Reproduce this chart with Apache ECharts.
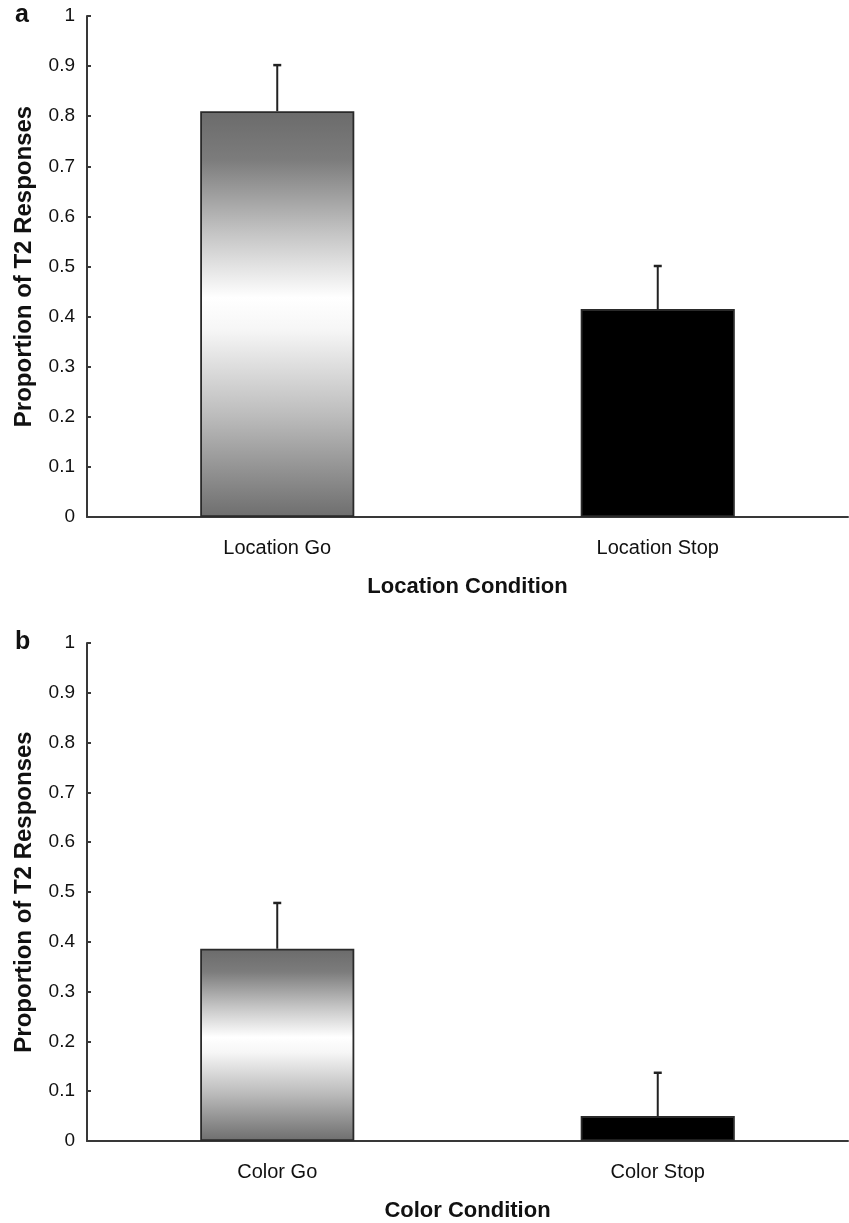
<!DOCTYPE html>
<html>
<head>
<meta charset="utf-8">
<script src="https://cdn.jsdelivr.net/npm/echarts@6/dist/echarts.min.js"></script>
<style>
html,body{margin:0;padding:0;background:#fff;}
#chart{width:849px;height:1223px;}
</style>
</head>
<body>
<div id="chart"></div>
<script>
// ---- data ----
const categoriesA = ['Location Go', 'Location Stop'];
const valuesA = [0.81, 0.415];
const upperA = [0.902, 0.501];
const categoriesB = ['Color Go', 'Color Stop'];
const valuesB = [0.386, 0.05];
const upperB = [0.478, 0.137];
const yTicks = [0, 0.1, 0.2, 0.3, 0.4, 0.5, 0.6, 0.7, 0.8, 0.9, 1];
const xTitleA = 'Location Condition';
const xTitleB = 'Color Condition';
const yTitle = 'Proportion of T2 Responses';

const FONT = '"Liberation Sans", Arial, sans-serif';
const AX = '#383838';

const goFill = new echarts.graphic.LinearGradient(0, 0, 0, 1, [
  {offset: 0, color: '#6b6b6b'},
  {offset: 0.12, color: '#7c7c7c'},
  {offset: 0.3, color: '#c4c4c4'},
  {offset: 0.46, color: '#ffffff'},
  {offset: 0.54, color: '#f6f6f6'},
  {offset: 0.75, color: '#bcbcbc'},
  {offset: 1, color: '#6e6e6e'}
]);

function barData(vals) {
  return vals.map((v, i) => ({
    value: v,
    itemStyle: { color: i === 0 ? goFill : '#000', borderColor: '#2a2a2a', borderWidth: 1.8 }
  }));
}
function errData(vals, ups) {
  return vals.map((v, i) => [i, v, ups[i]]);
}
function errRender(params, api) {
  const i = api.value(0);
  const p0 = api.coord([i, api.value(1)]);
  const p1 = api.coord([i, api.value(2)]);
  return {
    type: 'group',
    children: [
      {type: 'line', shape: {x1: p0[0], y1: p0[1], x2: p1[0], y2: p1[1]}, style: {stroke: '#222', lineWidth: 2}},
      {type: 'line', shape: {x1: p1[0] - 4, y1: p1[1], x2: p1[0] + 4, y2: p1[1]}, style: {stroke: '#222', lineWidth: 2.5}}
    ]
  };
}

function xAxis(gi, cats, title) {
  return {
    type: 'category', gridIndex: gi, data: cats,
    axisLine: {show: true, lineStyle: {color: AX, width: 2}},
    axisTick: {show: false},
    axisLabel: {color: '#111', fontSize: 20, fontFamily: FONT, margin: 21},
    name: title, nameLocation: 'middle', nameGap: 59,
    nameTextStyle: {color: '#111', fontSize: 22, fontWeight: 'bold', fontFamily: FONT}
  };
}
function yAxis(gi) {
  return {
    type: 'value', gridIndex: gi, min: 0, max: 1, interval: 0.1,
    axisLine: {show: true, lineStyle: {color: AX, width: 2}},
    axisTick: {show: true, inside: true, length: 4, lineStyle: {color: AX, width: 2}},
    splitLine: {show: false},
    axisLabel: {color: '#111', fontSize: 19, fontFamily: FONT, margin: 12,
      formatter: v => { const t = yTicks.find(x => Math.abs(x - v) < 1e-9); return t === undefined ? '' : String(t); }},
    name: yTitle, nameLocation: 'middle', nameRotate: 90, nameGap: 51,
    nameTextStyle: {color: '#111', fontSize: 24, fontWeight: 'bold', fontFamily: FONT}
  };
}

const chart = echarts.init(document.getElementById('chart'), null, {renderer: 'canvas'});
chart.setOption({
  animation: false,
  backgroundColor: '#fff',
  grid: [
    {left: 87, right: 1, top: 16, height: 501},
    {left: 87, right: 1, top: 643, height: 499}
  ],
  xAxis: [xAxis(0, categoriesA, xTitleA), xAxis(1, categoriesB, xTitleB)],
  yAxis: [yAxis(0), yAxis(1)],
  graphic: [
    {type: 'text', left: 15, top: 3, style: {text: 'a', fontSize: 25, fontWeight: 'bold', fontFamily: FONT, fill: '#111'}},
    {type: 'text', left: 15, top: 630, style: {text: 'b', fontSize: 25, fontWeight: 'bold', fontFamily: FONT, fill: '#111'}}
  ],
  series: [
    {type: 'bar', xAxisIndex: 0, yAxisIndex: 0, data: barData(valuesA), barWidth: '40.5%'},
    {type: 'custom', xAxisIndex: 0, yAxisIndex: 0, data: errData(valuesA, upperA), renderItem: errRender, z: 3},
    {type: 'bar', xAxisIndex: 1, yAxisIndex: 1, data: barData(valuesB), barWidth: '40.5%'},
    {type: 'custom', xAxisIndex: 1, yAxisIndex: 1, data: errData(valuesB, upperB), renderItem: errRender, z: 3}
  ]
});
</script>
</body>
</html>
